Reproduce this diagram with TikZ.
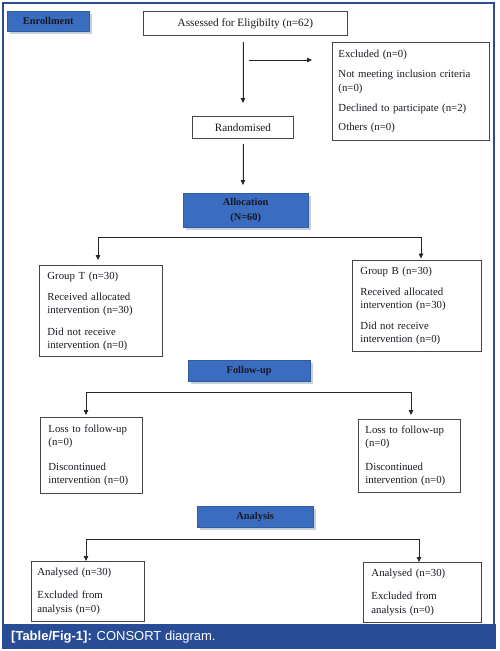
\documentclass[tikz,border=0pt]{standalone}
\usepackage{fontspec}
\setmainfont{Liberation Serif}
\newfontfamily\capfont{Liberation Sans}
\usetikzlibrary{arrows.meta,shadows}
\definecolor{frameblue}{RGB}{44,78,145}
\definecolor{boxblue}{RGB}{58,108,192}
\definecolor{shadowgray}{RGB}{200,206,218}
\definecolor{capblue}{RGB}{40,77,150}
\definecolor{boxline}{RGB}{70,70,70}
\definecolor{inktext}{RGB}{25,25,35}
\begin{document}
\begin{tikzpicture}[x=1pt,y=-1pt,
 wbox/.style={draw=boxline, line width=0.9pt, fill=white, anchor=north west, align=left, inner ysep=1pt, font=\fontsize{10.8}{13}\selectfont, text=inktext},
 cbox/.style={draw=boxline, line width=0.9pt, fill=white, anchor=north west, align=center, inner sep=0pt, font=\fontsize{11.2}{13}\selectfont, text=inktext},
 bbox/.style={fill=boxblue, draw=boxblue!85!black, line width=0.4pt, anchor=north west, align=center, inner sep=0pt, font=\bfseries\fontsize{10.4}{15}\selectfont, text=inktext, drop shadow={shadow xshift=2.5pt, shadow yshift=-2.5pt, fill=shadowgray, opacity=1}},
 arr/.style={-{Triangle[length=5pt,width=4.5pt]}, line width=0.8pt, draw=black!85, fill=black!85},
 link/.style={line width=0.8pt, draw=black!85}
]
\useasboundingbox (0,0) rectangle (499,651);
% frame and caption bar
\draw[frameblue, line width=1.5pt] (3,624) -- (3,3) -- (494,3) -- (494,624);
\fill[capblue] (2,624) rectangle (496,649);
\node[anchor=west, text=white, font=\capfont\fontsize{13}{15}\selectfont, inner sep=0pt] (caption) at (11,637) {\textbf{[Table/Fig-1]:} CONSORT diagram.};

% nodes
\node[bbox, minimum width=82pt, minimum height=20pt] (enroll) at (7,11) {Enrollment};
\node[cbox, minimum width=204pt, minimum height=24pt] (assess) at (143,11) {Assessed for Eligibilty (n=62)};
\node[wbox, text width=145pt, inner xsep=6pt, minimum height=98pt, font=\fontsize{10.8}{14}\selectfont] (excl) at (332,42)
 {Excluded (n=0)\\[6pt] Not meeting inclusion criteria\\ (n=0)\\[6pt] Declined to participate (n=2)\\[5pt] Others (n=0)};
\node[cbox, minimum width=101pt, minimum height=22pt] (rand) at (192,116) {Randomised};
\node[bbox, minimum width=125pt, minimum height=34pt] (alloc) at (183,193) {Allocation\\(N=60)};
\node[wbox, text width=107pt, inner xsep=8pt, minimum height=91pt] (gT) at (39,265)
 {Group T (n=30)\\[8pt] Received allocated\\ intervention (n=30)\\[9pt] Did not receive\\ intervention (n=0)};
\node[wbox, text width=113pt, inner xsep=8pt, minimum height=91pt] (gB) at (352,260)
 {Group B (n=30)\\[8pt] Received allocated\\ intervention (n=30)\\[8pt] Did not receive\\ intervention (n=0)};
\node[bbox, minimum width=122pt, minimum height=21pt] (fup) at (188,360) {Follow-up};
\node[wbox, text width=86pt, inner xsep=8pt, minimum height=76pt, font=\fontsize{10.8}{13.5}\selectfont] (lossL) at (40,417)
 {Loss to follow-up\\ (n=0)\\[11pt] Discontinued\\ intervention (n=0)};
\node[wbox, text width=88pt, inner xsep=7pt, minimum height=73pt, font=\fontsize{10.8}{13.5}\selectfont] (lossR) at (358,419)
 {Loss to follow-up\\ (n=0)\\[10pt] Discontinued\\ intervention (n=0)};
\node[bbox, minimum width=116pt, minimum height=21pt] (anal) at (197,506) {Analysis};
\node[wbox, text width=101pt, inner xsep=6pt, minimum height=60pt, font=\fontsize{10.8}{14}\selectfont] (anL) at (31,561)
 {Analysed (n=30)\\[9pt] Excluded from\\ analysis (n=0)};
\node[wbox, text width=102pt, inner xsep=8pt, minimum height=60pt, font=\fontsize{10.8}{14}\selectfont] (anR) at (363,562)
 {Analysed (n=30)\\[9pt] Excluded from\\ analysis (n=0)};

% connectors
\draw[arr, shorten <=6pt, shorten >=13pt] (rand.north |- assess.south) -- (rand.north);
\coordinate (b1) at (242.5,60);
\draw[arr, shorten <=6pt, shorten >=20pt] (b1) -- (b1 -| excl.west);
\draw[arr, shorten <=5pt, shorten >=8pt] (rand.south) -- (rand.south |- alloc.north);

\coordinate (aL) at (98,237);
\coordinate (aR) at (421,237);
\draw[link] (aL) -- (aR);
\draw[arr, shorten >=5pt] (aL) -- (aL |- gT.north);
\draw[arr, shorten >=1.5pt] (aR) -- (aR |- gB.north);

\coordinate (fL) at (86,392);
\coordinate (fR) at (411,392);
\draw[link] (fL) -- (fR);
\draw[arr, shorten >=2pt] (fL) -- (fL |- lossL.north);
\draw[arr, shorten >=4pt] (fR) -- (fR |- lossR.north);

\coordinate (nL) at (86,539);
\coordinate (nR) at (419,539);
\draw[link] (nL) -- (nR);
\draw[arr] (nL) -- (nL |- anL.north);
\draw[arr] (nR) -- (nR |- anR.north);
\end{tikzpicture}
\end{document}
